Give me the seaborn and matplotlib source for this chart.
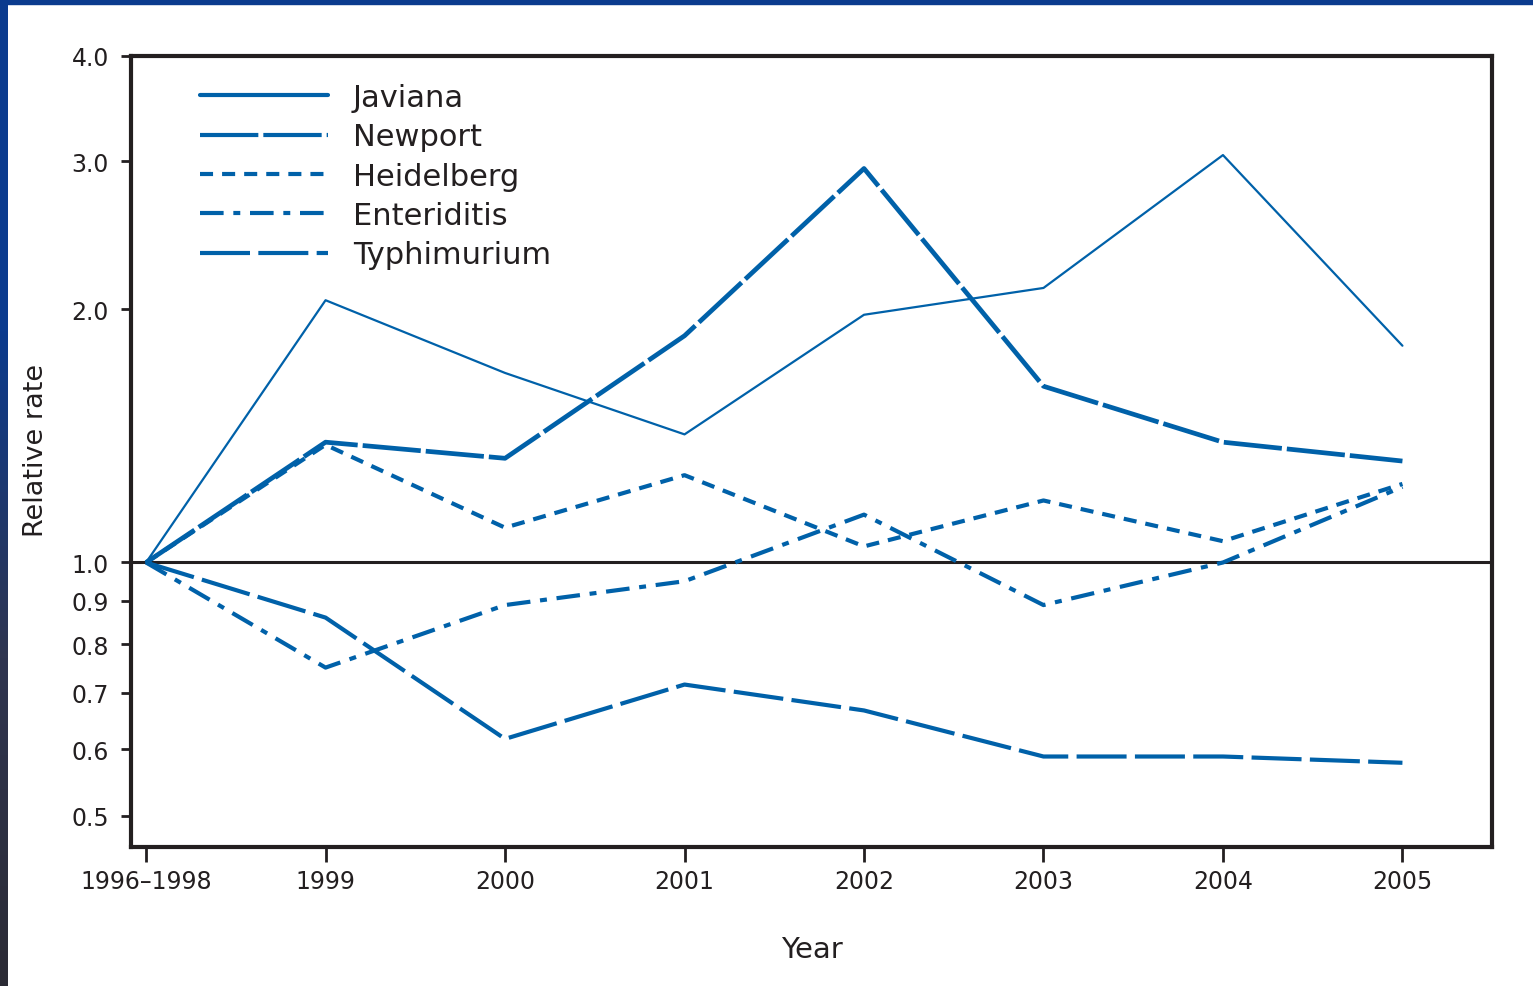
import numpy as np
import pandas as pd
import matplotlib
matplotlib.use("Agg")
import matplotlib.pyplot as plt
from matplotlib.lines import Line2D
from matplotlib.patches import Rectangle
from matplotlib.colors import LinearSegmentedColormap
from matplotlib.ticker import NullLocator, FixedLocator, FixedFormatter
import seaborn as sns

# ---- data ----
periods = ["1996–1998", "1999", "2000", "2001", "2002", "2003", "2004", "2005"]
serotypes = ["Javiana", "Newport", "Heidelberg", "Enteriditis", "Typhimurium"]
javiana = [1.0, 2.05, 1.68, 1.42, 1.97, 2.12, 3.05, 1.81]
newport = [1.0, 1.39, 1.33, 1.86, 2.94, 1.62, 1.39, 1.32]
heidelberg = [1.0, 1.38, 1.10, 1.27, 1.045, 1.185, 1.06, 1.24]
enteriditis = [1.0, 0.75, 0.89, 0.95, 1.14, 0.89, 1.0, 1.23]
typhimurium = [1.0, 0.86, 0.617, 0.716, 0.667, 0.588, 0.588, 0.578]
y_ticks = [0.5, 0.6, 0.7, 0.8, 0.9, 1.0, 2.0, 3.0, 4.0]
y_tick_labels = ["0.5", "0.6", "0.7", "0.8", "0.9", "1.0", "2.0", "3.0", "4.0"]

series = [javiana, newport, heidelberg, enteriditis, typhimurium]
rows = []
for name, vals in zip(serotypes, series):
    for i, v in enumerate(vals):
        rows.append({"idx": i, "period": periods[i], "rate": v, "serotype": name})
df = pd.DataFrame(rows)

# ---- style ----
sns.set_theme(style="white")
plt.rcParams["font.family"] = ["DejaVu Sans"]
plt.rcParams["lines.scale_dashes"] = False

BLUE = "#0061a9"
INK = "#231f20"

dashes = {
    "Javiana": "",
    "Newport": (42, 3.6),
    "Heidelberg": (9.4, 6.5),
    "Enteriditis": (17, 7, 5, 7),
    "Typhimurium": (36, 6),
}
sizes = {"Javiana": 1.6, "Newport": 3.4, "Heidelberg": 3.0,
         "Enteriditis": 3.0, "Typhimurium": 3.0}
palette = {s: BLUE for s in serotypes}

W, H = 1533, 987
fig = plt.figure(figsize=(W / 100, H / 100), dpi=100)
fig.patch.set_facecolor("white")

ax = fig.add_axes([131 / W, 1 - 848 / H, (1492 - 131) / W, (848 - 57) / H])

ax.axhline(1.0, color=INK, lw=2.2, zorder=1.5)

sns.lineplot(data=df, x="idx", y="rate", hue="serotype", style="serotype",
             size="serotype", palette=palette, dashes=dashes, sizes=sizes,
             hue_order=serotypes, style_order=serotypes, size_order=serotypes,
             errorbar=None, legend=False, ax=ax, zorder=2)

ax.set_yscale("log")
ax.set_ylim(0.459, 4.0)
ax.set_xlim(-0.084, 7.499)
ax.yaxis.set_major_locator(FixedLocator(y_ticks))
ax.yaxis.set_major_formatter(FixedFormatter(y_tick_labels))
ax.yaxis.set_minor_locator(NullLocator())
ax.set_xticks(range(len(periods)))
ax.set_xticklabels(periods)

for sp in ax.spines.values():
    sp.set_visible(True)
    sp.set_color(INK)
    sp.set_linewidth(3)

ax.tick_params(axis="y", direction="out", length=7, width=2, color=INK,
               labelsize=17, labelcolor=INK, pad=9, left=True)
ax.tick_params(axis="x", direction="out", length=11, width=2, color=INK,
               labelsize=17, labelcolor=INK, pad=5, bottom=True)
ax.grid(False)

ax.set_xlabel("Year", fontsize=21, color=INK)
ax.xaxis.set_label_coords(0.5, -0.129)
ax.xaxis.label.set_va("center")
ax.set_ylabel("Relative rate", fontsize=19.5, color=INK)
ax.yaxis.set_label_coords(-0.0698, 0.503)
ax.yaxis.label.set_va("center")

handles = [Line2D([0], [0], color=BLUE, lw=3.0,
                  linestyle=(0, dashes[s]) if dashes[s] else "-")
           for s in serotypes]
ax.legend(handles, serotypes, loc="upper left", bbox_to_anchor=(0.0507, 0.966),
          frameon=False, borderpad=0, borderaxespad=0, handlelength=4.2,
          handletextpad=0.8, labelspacing=0.34, fontsize=22,
          labelcolor=INK)

# ---- decorative frame (top and left bands) ----
fig.patches.append(Rectangle((0, 1 - 5 / H), 1, 5 / H, transform=fig.transFigure,
                             color="#0b3b8e", zorder=10))
bar = fig.add_axes([0, 0, 8 / W, 1])
cmap = LinearSegmentedColormap.from_list("edge", ["#0b3b8e", "#0b3b8e", "#2f3550", "#2b2b35"])
bar.imshow(np.linspace(0, 1, 256).reshape(-1, 1), aspect="auto", cmap=cmap)
bar.axis("off")

fig.savefig("out.png", dpi=100)
